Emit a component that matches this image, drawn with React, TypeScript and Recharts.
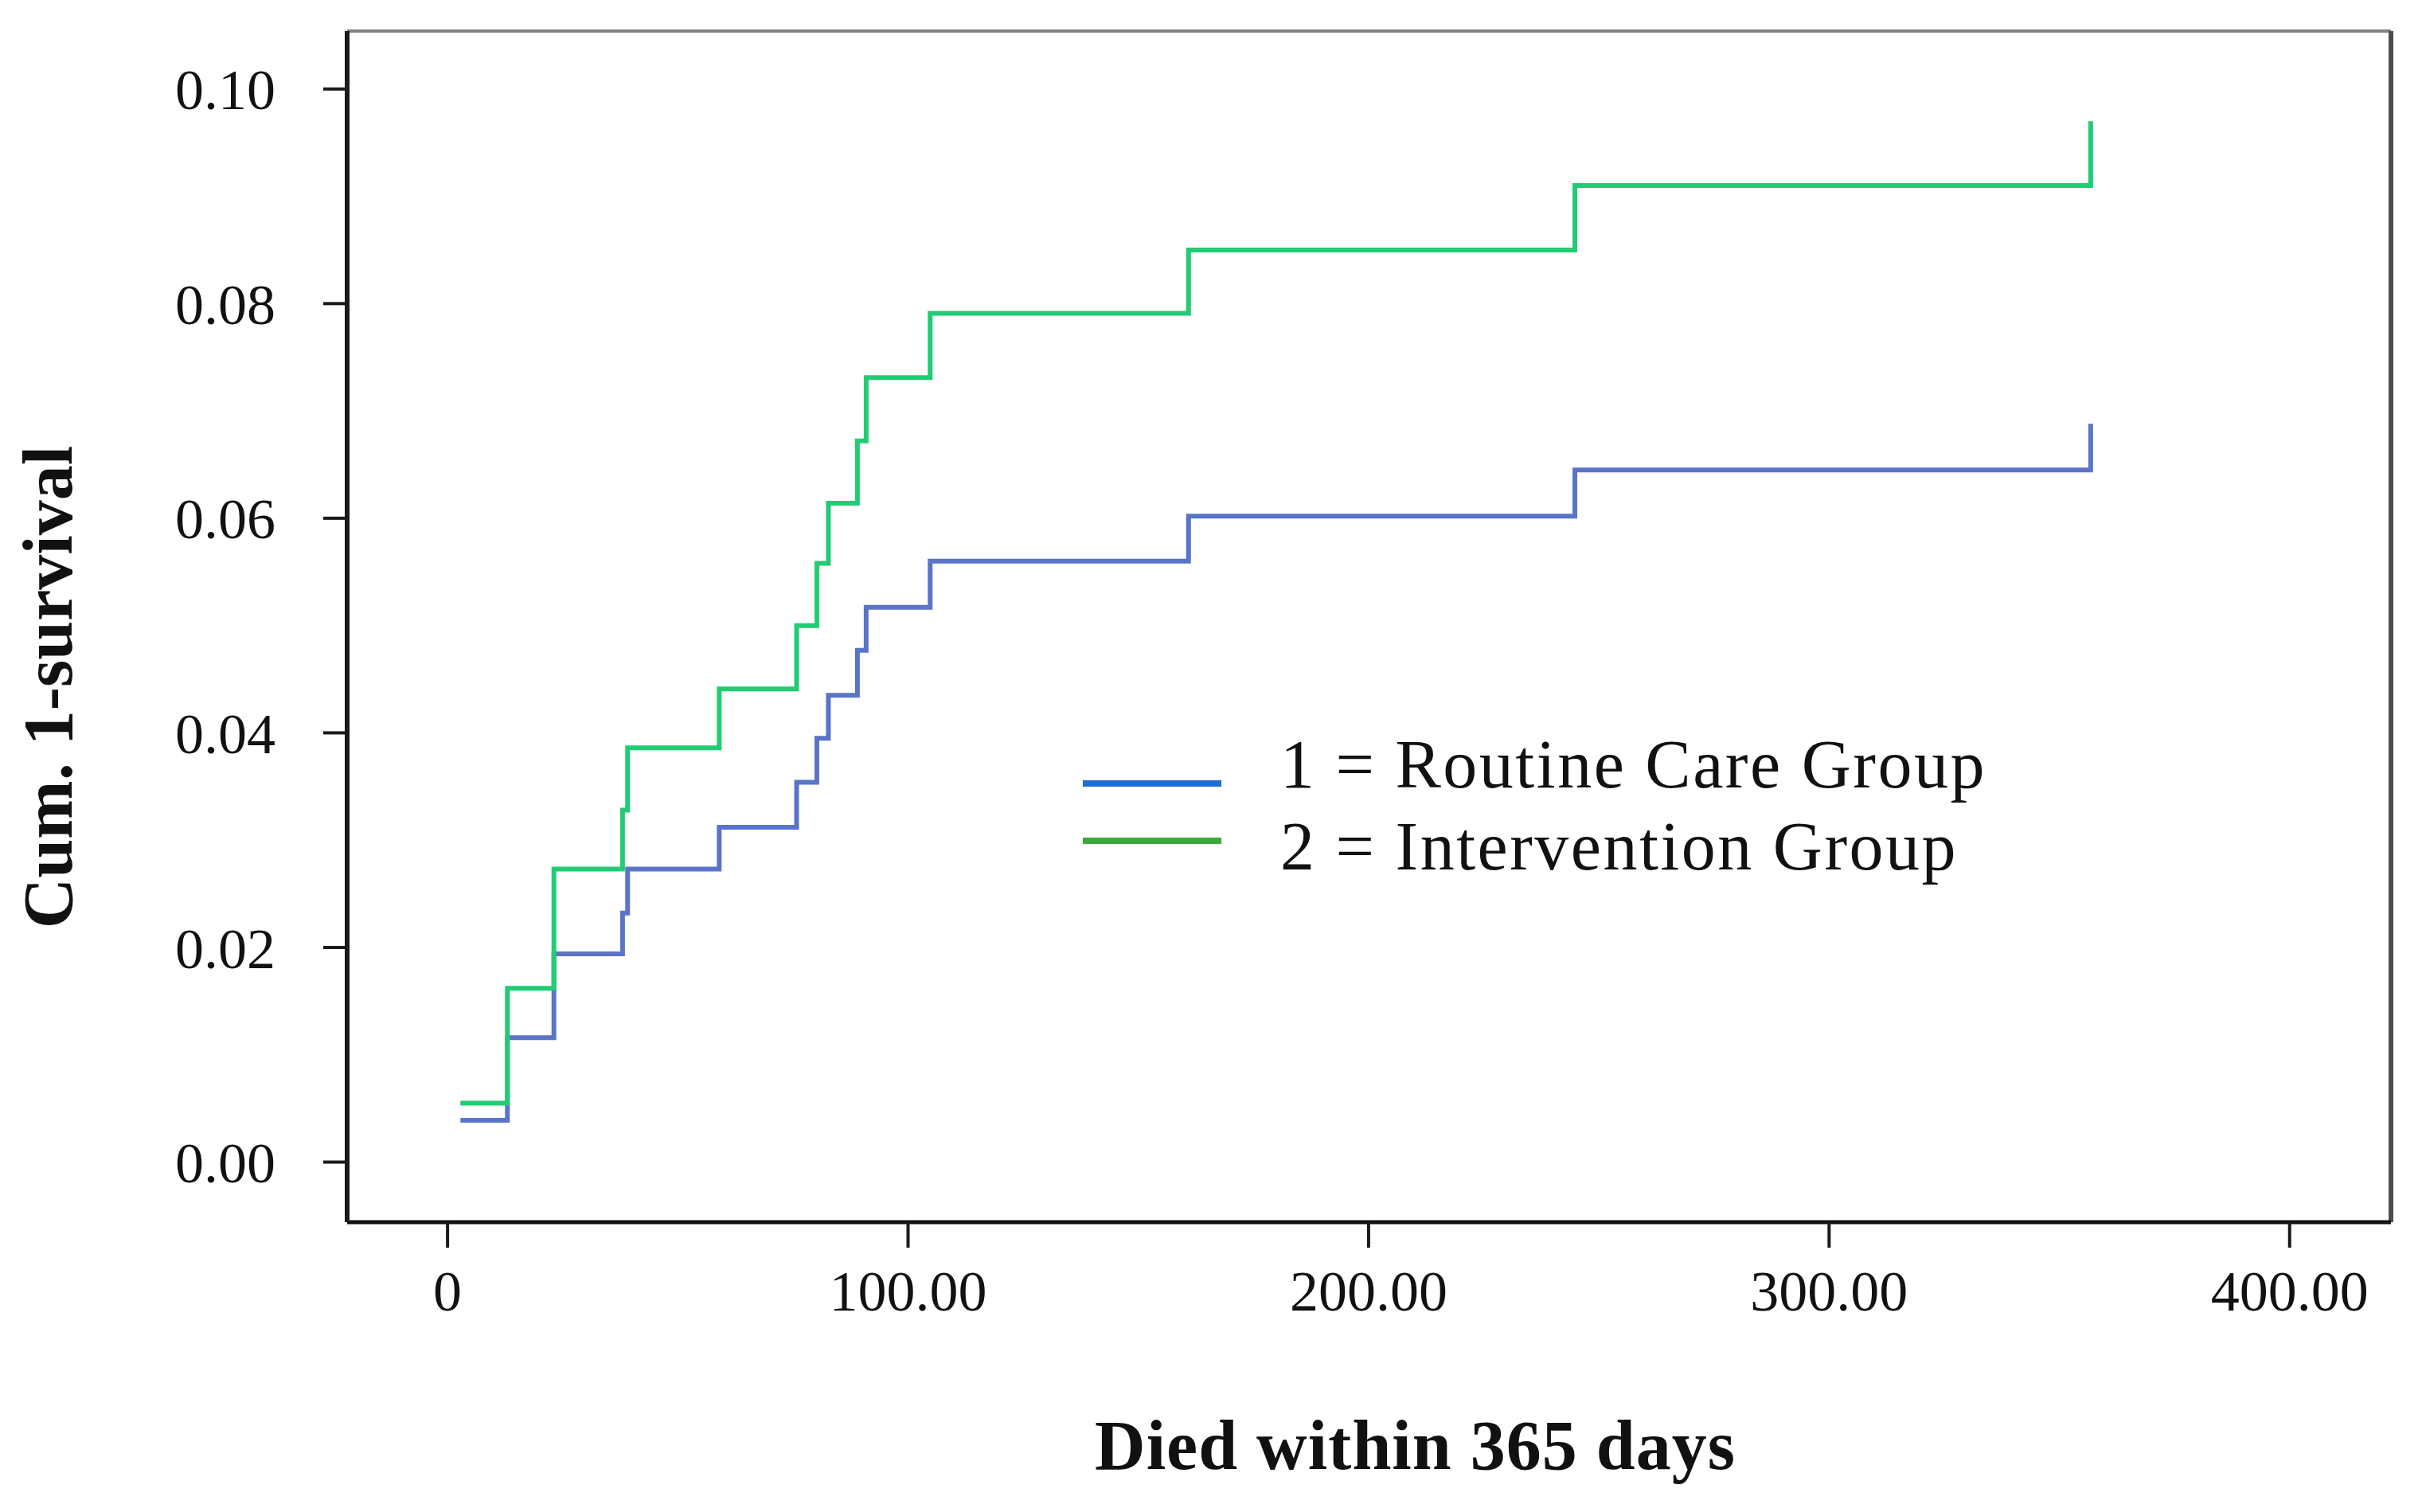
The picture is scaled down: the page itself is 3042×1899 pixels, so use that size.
import { Label, Legend, Line, LineChart, ReferenceLine, XAxis, YAxis } from "recharts";

// event times (days) and cumulative 1-survival for each group
const days = [2.8, 13.0, 23.1, 38.0, 39.1, 59.0, 75.8, 80.2, 82.7, 89.0, 90.9, 104.8, 160.9, 244.8, 356.8];
const routineCare = [0.0039, 0.0116, 0.0194, 0.0232, 0.0273, 0.0312, 0.0354, 0.0395, 0.0435, 0.0477, 0.0517, 0.056, 0.0602, 0.0645, 0.0688];
const intervention = [0.0055, 0.0162, 0.0273, 0.0328, 0.0386, 0.0441, 0.05, 0.0558, 0.0614, 0.0672, 0.0731, 0.0791, 0.085, 0.091, 0.097];

const seriesNames = ["1 = Routine Care Group", "2 = Intervention Group"];
const lineColors = ["#5a74c8", "#22cc74"];
const legendColors = ["#1f6dd0", "#3aaa3a"];

const xTicks = [0, 100, 200, 300, 400];
const xTickLabels = ["0", "100.00", "200.00", "300.00", "400.00"];
const yTicks = [0, 0.02, 0.04, 0.06, 0.08, 0.1];
const yTickLabels = ["0.00", "0.02", "0.04", "0.06", "0.08", "0.10"];

const xDomain = [-21.8, 422];
const yDomain = [-0.0056, 0.1054];

const data = days.map((day, i) => ({
  day,
  routine: routineCare[i],
  intervention: intervention[i],
}));

const serif = "'Liberation Serif', 'DejaVu Serif', serif";

function YTitle(props: any) {
  const vb = props.viewBox;
  const cx = 60;
  const cy = vb.y + vb.height / 2 + 76;
  return (
    <text
      x={cx}
      y={cy}
      transform={`rotate(-90, ${cx}, ${cy})`}
      textAnchor="middle"
      dominantBaseline="central"
      fontFamily={serif}
      fontWeight="bold"
      fontSize={88}
      fill="#111"
    >
      Cum. 1-survival
    </text>
  );
}

function XTitle(props: any) {
  const vb = props.viewBox;
  return (
    <text
      x={vb.x + vb.width / 2 + 58}
      y={1845}
      textAnchor="middle"
      fontFamily={serif}
      fontWeight="bold"
      fontSize={88}
      letterSpacing={1}
      fill="#111"
    >
      Died within 365 days
    </text>
  );
}

function GroupLegend({ payload }: any) {
  const rows = [
    { lineY: 84, textY: 89 },
    { lineY: 156, textY: 192 },
  ];
  return (
    <svg width={1250} height={230}>
      {(payload || []).map((p: any, i: number) => (
        <g key={p.value}>
          <line x1={10} x2={184} y1={rows[i].lineY} y2={rows[i].lineY} stroke={legendColors[i]} strokeWidth={8} />
          <text x={258} y={rows[i].textY} fontFamily={serif} fontSize={86} letterSpacing={2.5} fill="#111">
            {p.value}
          </text>
        </g>
      ))}
    </svg>
  );
}

export default function App() {
  return (
    <div style={{ position: "absolute", left: 0, top: 0, background: "#fff" }}>
      <LineChart width={3042} height={1899} data={data} margin={{ top: 39, right: 39, left: 0, bottom: 0 }}>
        <XAxis
          dataKey="day"
          type="number"
          domain={xDomain}
          ticks={xTicks}
          allowDataOverflow
          height={364}
          tickSize={32}
          tickMargin={28}
          tickFormatter={(v: number) => xTickLabels[xTicks.indexOf(v)]}
          tick={{ fill: "#111", fontSize: 72, fontFamily: serif }}
          tickLine={{ stroke: "#1a1a1a", strokeWidth: 4 }}
          axisLine={{ stroke: "#111", strokeWidth: 5 }}
        >
          <Label content={XTitle} />
        </XAxis>
        <YAxis
          type="number"
          domain={yDomain}
          ticks={yTicks}
          allowDataOverflow
          width={436}
          tickSize={30}
          tickMargin={60}
          tickFormatter={(v: number) => yTickLabels[yTicks.indexOf(v)]}
          tick={{ fill: "#111", fontSize: 72, fontFamily: serif }}
          tickLine={{ stroke: "#1a1a1a", strokeWidth: 4 }}
          axisLine={{ stroke: "#1a1a1a", strokeWidth: 6 }}
        >
          <Label content={YTitle} />
        </YAxis>
        {/* top and right edges of the frame */}
        <ReferenceLine y={yDomain[1]} stroke="#808080" strokeWidth={4} ifOverflow="visible" />
        <ReferenceLine x={xDomain[1]} stroke="#4d4d4d" strokeWidth={6} ifOverflow="visible" />
        <Legend
          layout="vertical"
          align="center"
          verticalAlign="middle"
          content={GroupLegend}
          wrapperStyle={{ left: 1350, top: 900, width: 1250, height: 230 }}
        />
        <Line
          type="stepAfter"
          dataKey="routine"
          name={seriesNames[0]}
          stroke={lineColors[0]}
          strokeWidth={6}
          dot={false}
          isAnimationActive={false}
        />
        <Line
          type="stepAfter"
          dataKey="intervention"
          name={seriesNames[1]}
          stroke={lineColors[1]}
          strokeWidth={6}
          dot={false}
          isAnimationActive={false}
        />
      </LineChart>
    </div>
  );
}
